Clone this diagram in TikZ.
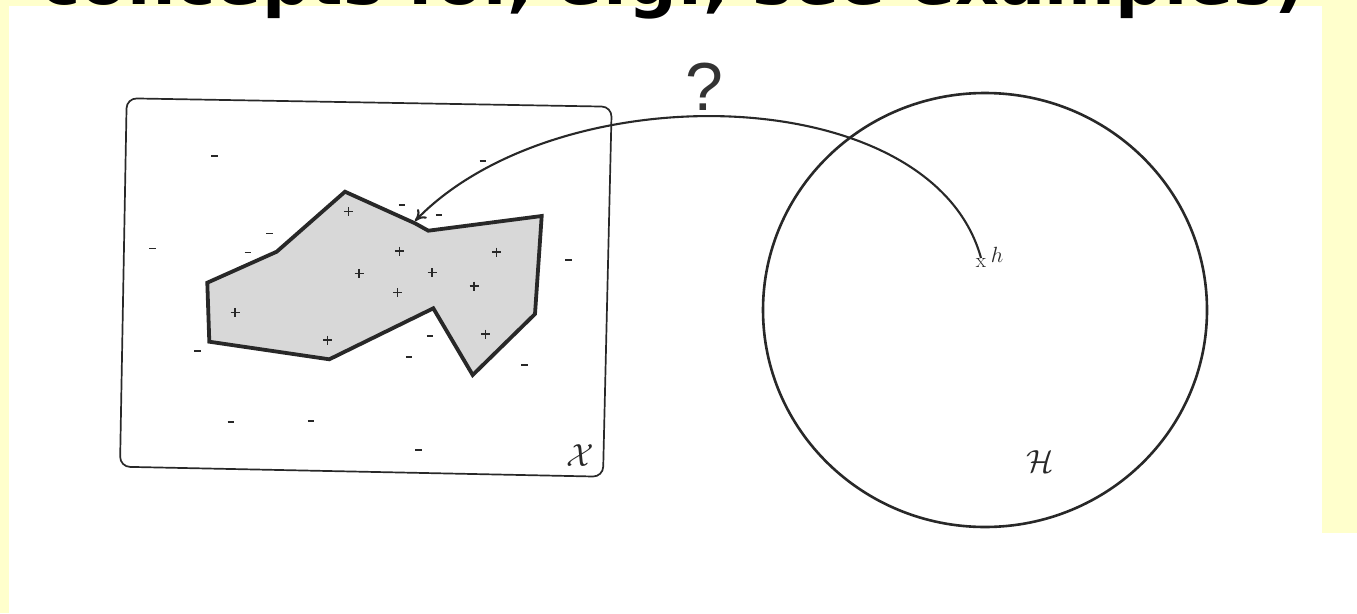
\RequirePackage{fix-cm}
\documentclass[tikz,border=0pt]{standalone}
\usepackage{fontspec}
\newfontfamily\topfont{DejaVu Sans}
\newfontfamily\qfont{Liberation Sans}
\usetikzlibrary{arrows.meta}
\definecolor{hlyellow}{RGB}{255,255,204}
\definecolor{regiongray}{RGB}{216,216,216}
\definecolor{inkgray}{RGB}{40,40,40}
\tikzset{
  pluspt/.pic={\draw[line width=1.1pt, inkgray] (-4.5,0)--(4.5,0) (0,-4.5)--(0,4.5);},
  minuspt/.pic={\draw[line width=1.6pt, inkgray] (-3.2,0)--(3.2,0);},
  boxline/.style={line width=1.7pt, draw=inkgray, rounded corners=10pt},
  regionline/.style={line width=3.8pt, draw=inkgray, fill=regiongray, line join=miter},
  circline/.style={line width=2.6pt, draw=inkgray},
  arcline/.style={line width=2.1pt, draw=inkgray, -{To[length=11pt,width=13pt]}},
  mathlab/.style={inner sep=0pt, font=\fontsize{32}{34}\selectfont, text=inkgray}
}
\begin{document}
\begin{tikzpicture}[x=1pt,y=-1pt]
\useasboundingbox (0,0) rectangle (1357,613);
\clip (0,0) rectangle (1357,613);
\fill[white] (0,0) rectangle (1357,613);
\fill[hlyellow] (0,0) rectangle (1357,6);
\fill[hlyellow] (0,0) rectangle (9,613);
\fill[hlyellow] (1322,0) rectangle (1357,533);
\coordinate (titlebase) at (40,5);
\node[anchor=base west, inner sep=0pt, font=\topfont\bfseries\fontsize{68}{72}\selectfont] (title) at (titlebase) {concepts for, e.g., see examples)};

% instance space box
\draw[boxline] (126.7,98.3) -- (611.7,106.7) -- (603,476.7) -- (120,466.7) -- cycle;
\node[mathlab] (Xlab) at (580,456) {$\mathcal{X}$};

% concept region
\draw[regionline] (345,191.7) -- (415,223.3) -- (428.3,230.7) -- (541.7,216) -- (535,314) -- (472.7,375) -- (433.3,308.3) -- (329.3,359.3) -- (209.3,341.7) -- (207.3,282.7) -- (276.7,251.7) -- cycle;

% positive examples
\foreach \p in {(348.3,211.7),(399.3,251),(496.7,252),(359,273.3),(432,272.7),(397.7,292.7),(474,286),(235,312.3),(327.7,340),(485.7,334)}
  \pic at \p {pluspt};
% negative examples
\foreach \p in {(214.3,155.7),(482.7,161),(402,204.7),(439,215),(269.3,233.3),(152.3,248.3),(247.7,252.3),(568.3,260),(197.3,351),(430,335.7),(409,356.7),(524.3,365),(230.7,421.7),(311,420.7),(418.3,450)}
  \pic at \p {minuspt};

% hypothesis space
\coordinate (Hc) at (985,310);
\draw[circline] (Hc) ellipse [x radius=222pt, y radius=217pt];
\node[mathlab] (Hlab) at (1040,462) {$\mathcal{H}$};
\coordinate (h) at (981,258);
\node[inner sep=0pt, font=\fontsize{21}{22}\selectfont, text=inkgray] (hx) at (981,263) {x};
\node[inner sep=0pt, font=\fontsize{22}{24}\selectfont, text=inkgray] (hlab) at (997,255) {$h$};

% mapping arrow
\coordinate (tip) at (415,221);
\draw[arcline] (h) .. controls (932,80) and (560,72) .. (tip);
\node[inner sep=0pt, font=\qfont\fontsize{68}{70}\selectfont, text=black!80] (q) at (704,87) {?};
\end{tikzpicture}
\end{document}
